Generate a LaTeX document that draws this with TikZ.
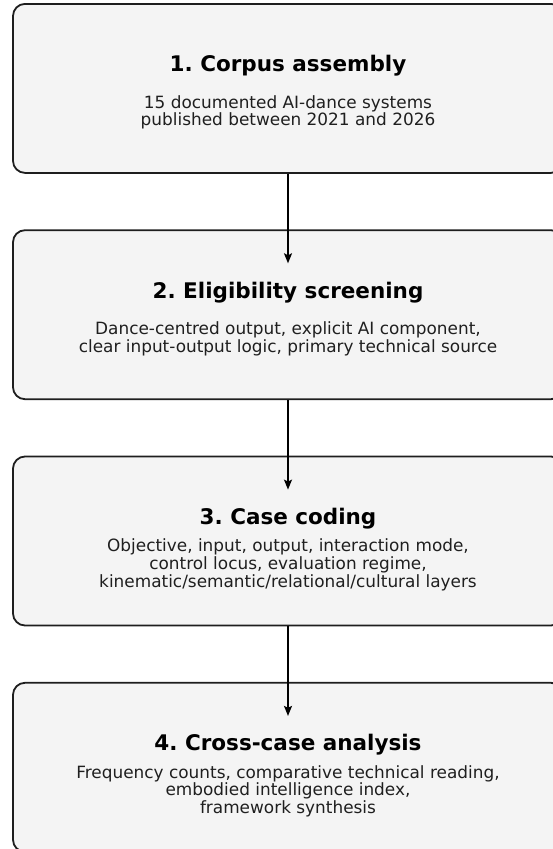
\documentclass[tikz,border=0pt]{standalone}
\usepackage{fontspec}
\setmainfont{DejaVu Sans}
\usetikzlibrary{arrows.meta,calc}
\definecolor{boxfill}{HTML}{F4F4F4}
\definecolor{boxline}{HTML}{1E1E1E}
\tikzset{
  stagebox/.style={draw=boxline, line width=1.8pt, fill=boxfill, rounded corners=12pt,
    minimum width=550pt, minimum height=169pt, inner sep=0pt, anchor=north},
  stagetitle/.style={font=\fontsize{21.5}{25}\selectfont\bfseries\frenchspacing, anchor=base, inner sep=0pt, text=black},
  stagebody/.style={font=\fontsize{16.9}{17.8}\selectfont\frenchspacing, align=center, anchor=center, inner sep=0pt, text=black!88},
  flow/.style={draw=black, line width=1.6pt, -{Stealth[length=10pt,width=8pt,inset=2pt]}}
}
\begin{document}
\begin{tikzpicture}[x=1pt,y=-1pt]
\useasboundingbox (0,0) rectangle (552,849);
% boxes
\node[stagebox] (b1) at (288,3) {};
\node[stagebox] (b2) at (288,229.3) {};
\node[stagebox] (b3) at (288,455.6) {};
\node[stagebox] (b4) at (288,681.9) {};
% titles and bodies
\node[stagetitle] (t1) at ($(b1.center)+(0,-16.5)$) {1. Corpus assembly};
\node[stagebody] (d1) at ($(b1.center)+(0,24)$) {15 documented AI-dance systems\\published between 2021 and 2026};
\node[stagetitle] (t2) at ($(b2.center)+(0,-16.5)$) {2. Eligibility screening};
\node[stagebody] (d2) at ($(b2.center)+(0,24)$) {Dance-centred output, explicit AI component,\\clear input-output logic, primary technical source};
\node[stagetitle] (t3) at ($(b3.center)+(0,-16.5)$) {3. Case coding};
\node[stagebody] (d3) at ($(b3.center)+(0,24)$) {Objective, input, output, interaction mode,\\control locus, evaluation regime,\\kinematic/semantic/relational/cultural layers};
\node[stagetitle] (t4) at ($(b4.center)+(0,-16.5)$) {4. Cross-case analysis};
\node[stagebody] (d4) at ($(b4.center)+(0,24)$) {Frequency counts, comparative technical reading,\\embodied intelligence index,\\framework synthesis};
% arrow ends
\coordinate (e2) at ($(b2.north)+(0,34)$);
\coordinate (e3) at ($(b3.north)+(0,34)$);
\coordinate (e4) at ($(b4.north)+(0,34)$);
\draw[flow] (b1.south) -- (e2);
\draw[flow] (b2.south) -- (e3);
\draw[flow] (b3.south) -- (e4);
\end{tikzpicture}
\end{document}
